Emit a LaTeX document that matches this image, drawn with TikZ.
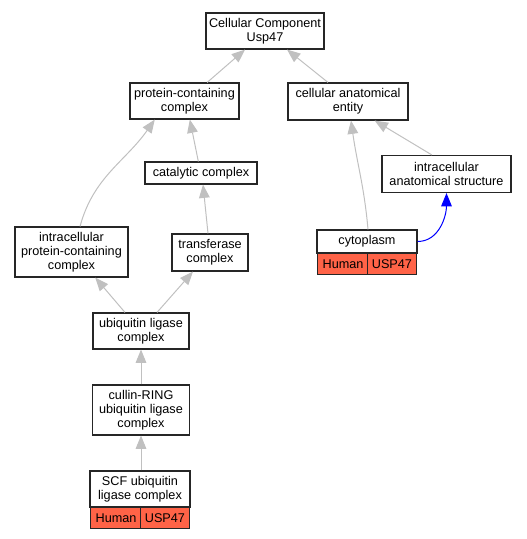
\documentclass[tikz,border=0pt]{standalone}
\usepackage{fontspec}
\setmainfont{Liberation Sans}
\usepackage{tikz}
\usetikzlibrary{arrows.meta}
\definecolor{tomatored}{RGB}{255,99,71}
\definecolor{edgegray}{RGB}{192,192,192}
\tikzset{
  term/.style={draw=black!85, line width=0.85pt, fill=white, align=center, inner sep=0pt,
    font=\fontsize{9.5pt}{10.5pt}\selectfont},
  cell/.style={term, fill=tomatored, minimum height=15.75pt},
  isa/.style={-{Triangle[length=10pt,width=8pt]}, color=edgegray, line width=0.75pt},
  partof/.style={-{Triangle[length=10pt,width=8pt]}, color=blue, line width=0.75pt}
}

\begin{document}
\begin{tikzpicture}[x=0.75pt, y=-0.75pt]
\useasboundingbox (0,0) rectangle (527,539);
% terms
\node[term, minimum width=88.5pt, minimum height=27pt] (root) at (265,31) {Cellular Component\\Usp47};
\node[term, minimum width=81.75pt, minimum height=27pt] (pcc) at (184.5,101) {protein-containing\\complex};
\node[term, minimum width=90pt, minimum height=27.75pt] (cae) at (348,101.5) {cellular anatomical\\entity};
\node[term, minimum width=84pt, minimum height=16.5pt] (cat) at (201,173) {catalytic complex};
\node[term, minimum width=96.75pt, minimum height=27.75pt] (ias) at (446.5,174) {intracellular\\anatomical structure};
\node[term, minimum width=84.75pt, minimum height=37.5pt] (ipcc) at (71.5,252) {intracellular\\protein-containing\\complex};
\node[term, minimum width=57pt, minimum height=27.75pt] (trans) at (210,252.5) {transferase\\complex};
\node[term, minimum width=72pt, minimum height=27pt] (ulc) at (141,331) {ubiquitin ligase\\complex};
\node[term, minimum width=72.75pt, minimum height=37.5pt] (cul) at (141,410) {cullin-RING\\ubiquitin ligase\\complex};
% annotated terms
\node[term, minimum width=75pt, minimum height=17.25pt] (cyto) at (367,241.5) {cytoplasm};
\node[cell, minimum width=38.25pt, anchor=north west] (cytoH) at (317,253) {Human};
\node[cell, minimum width=36.75pt, anchor=north east] (cytoU) at (417,253) {USP47};
\node[term, minimum width=75pt, minimum height=27pt] (scf) at (140,489) {SCF ubiquitin\\ligase complex};
\node[cell, minimum width=38.25pt, anchor=north west] (scfH) at (90,507) {Human};
\node[cell, minimum width=36.75pt, anchor=north east] (scfU) at (190,507) {USP47};
% is_a
\path[isa]
([xshift=17pt]pcc.north) edge[isa] ([xshift=-15pt]root.south)
([xshift=-15pt]cae.north) edge[isa] ([xshift=16.5pt]root.south)
([xshift=-2pt]cat.north) edge[isa] ([xshift=4pt]pcc.south)
([xshift=-1.5pt]trans.north) edge[isa] ([xshift=1.5pt]cat.south)
([xshift=6.4pt]ipcc.north) edge[isa, out=75, in=-125] ([xshift=19pt]pcc.south west)
([xshift=-12pt]ulc.north) edge[isa] ([xshift=-25pt]ipcc.south east)
([xshift=12pt]ulc.north) edge[isa] ([xshift=-12.75pt]trans.south)
(cul) edge[isa] (ulc)
([xshift=0.75pt]scf.north) edge[isa] ([xshift=0.75pt]scf.north |- cul.south)
([xshift=0.75pt]cyto.north) edge[isa, out=95, in=-82] ([xshift=2.25pt]cae.south)
([xshift=-11pt]ias.north) edge[isa] ([xshift=20pt]cae.south)
;
% part_of
\draw[partof] (cyto.east) to[out=0, in=-90] (ias.south);
\end{tikzpicture}
\end{document}
